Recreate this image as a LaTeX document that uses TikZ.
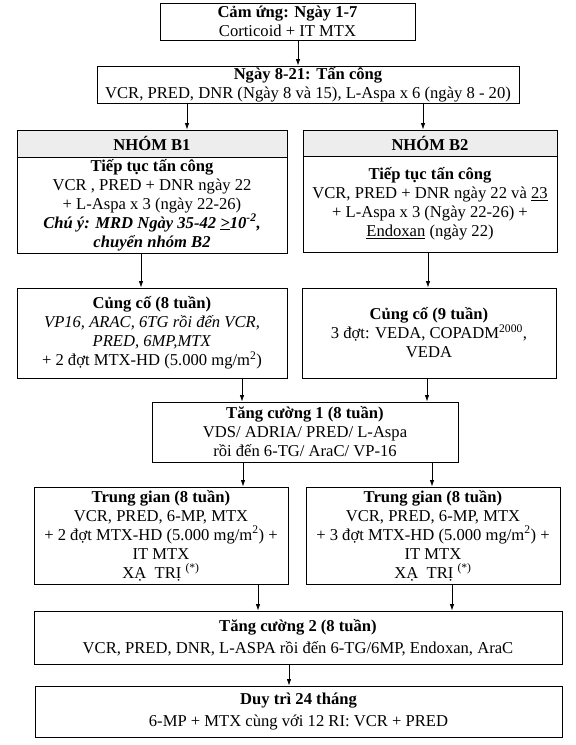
\documentclass[tikz,border=0pt]{standalone}
\usepackage{fontspec}
\setmainfont{Liberation Serif}
\usetikzlibrary{arrows.meta}
\begin{document}
\begin{tikzpicture}[x=1pt,y=-1pt,
  box/.style={draw,line width=0.9pt,inner sep=0pt,align=center,font=\fontsize{16.6}{19}\selectfont},
  headbox/.style={box,fill=black!7},
  arr/.style={line width=0.8pt,-{Latex[length=6.5pt,width=4.5pt]}}]
\useasboundingbox (0,0) rectangle (576,745);
% boxes
\node[box,minimum width=255pt,minimum height=37pt] (c1) at (287.5,21.5)
  {\textbf{Cảm ứng: Ngày 1-7}\\Corticoid + IT MTX};
\node[box,minimum width=422pt,minimum height=37pt] (c2) at (308,84.5)
  {\textbf{Ngày 8-21: Tấn công}\\VCR, PRED, DNR (Ngày 8 và 15), L-Aspa x 6 (ngày 8 - 20)};
\node[headbox,minimum width=270pt,minimum height=27pt] (b1h) at (152,143.5) {\textbf{NHÓM B1}};
\node[box,minimum width=270pt,minimum height=96pt] (b1) at (152,205)
  {\textbf{Tiếp tục tấn công}\\VCR , PRED + DNR ngày 22\\+ L-Aspa x 3 (ngày 22-26)\\
   \textbf{\textit{Chú ý: MRD Ngày 35-42 \underline{>}10\textsuperscript{-2},}}\\
   \textbf{\textit{chuyển nhóm B2}}};
\node[headbox,minimum width=254pt,minimum height=26pt] (b2h) at (430,143) {\textbf{NHÓM B2}};
\node[box,minimum width=254pt,minimum height=96pt] (b2) at (430,204)
  {\textbf{Tiếp tục tấn công}\\VCR, PRED + DNR ngày 22 và \underline{23}\\+ L-Aspa x 3 (Ngày 22-26) +\\
   \underline{Endoxan} (ngày 22)};
\node[box,minimum width=270pt,minimum height=90pt] (cc8) at (152,333)
  {\textbf{Củng cố (8 tuần)}\\\textit{VP16, ARAC, 6TG rồi đến VCR,}\\\textit{PRED, 6MP,MTX}\\
   + 2 đợt MTX-HD (5.000 mg/m\textsuperscript{2})};
\node[box,minimum width=254pt,minimum height=90pt] (cc9) at (429,333)
  {\textbf{Củng cố (9 tuần)}\\3 đợt: VEDA, COPADM\textsuperscript{2000},\\VEDA};
\node[box,minimum width=306pt,minimum height=60pt] (tc1) at (305,432)
  {\textbf{Tăng cường 1 (8 tuần)}\\VDS/ ADRIA/ PRED/ L-Aspa\\rồi đến 6-TG/ AraC/ VP-16};
\node[box,minimum width=254pt,minimum height=97pt] (tgl) at (161,535.5)
  {\textbf{Trung gian (8 tuần)}\\VCR, PRED, 6-MP, MTX\\+ 2 đợt MTX-HD (5.000 mg/m\textsuperscript{2}) +\\
   IT MTX\\XẠ\ \ TRỊ \textsuperscript{(*)}};
\node[box,minimum width=254pt,minimum height=97pt] (tgr) at (433,535.5)
  {\textbf{Trung gian (8 tuần)}\\VCR, PRED, 6-MP, MTX\\+ 3 đợt MTX-HD (5.000 mg/m\textsuperscript{2}) +\\
   IT MTX\\XẠ\ \ TRỊ \textsuperscript{(*)}};
\node[box,minimum width=528pt,minimum height=53pt] (tc2) at (298,637.5)
  {\textbf{Tăng cường 2 (8 tuần)}\\[3pt]VCR, PRED, DNR, L-ASPA rồi đến 6-TG/6MP, Endoxan, AraC};
\node[box,minimum width=527pt,minimum height=51pt] (dt) at (298.5,711.5)
  {\textbf{Duy trì 24 tháng}\\[3pt]6-MP + MTX cùng với 12 RI: VCR + PRED};
% connectors
\draw[arr] ([xshift=10.5pt]c1.south) -- ([xshift=-10pt]c2.north);
\draw[arr] ([xshift=-121pt]c2.south) -- ([xshift=35pt]b1h.north);
\draw[arr] ([xshift=115pt]c2.south) -- ([xshift=-7pt]b2h.north);
\draw[arr] ([xshift=-11pt]b1.south) -- ([xshift=-11pt]cc8.north);
\draw[arr] ([xshift=-2pt]b2.south) -- ([xshift=-1pt]cc9.north);
\draw[arr] ([xshift=90pt]cc8.south) -- ([xshift=-63pt]tc1.north);
\draw[arr] ([xshift=-2pt]cc9.south) -- ([xshift=122pt]tc1.north);
\draw[arr] ([xshift=-62pt]tc1.south) -- ([xshift=82pt]tgl.north);
\draw[arr] ([xshift=127pt]tc1.south) -- ([xshift=-1pt]tgr.north);
\draw[arr] ([xshift=97pt]tgl.south) -- ([xshift=-40pt]tc2.north);
\draw[arr] ([xshift=19pt]tgr.south) -- ([xshift=154pt]tc2.north);
\draw[arr] ([xshift=-9pt]tc2.south) -- ([xshift=-9.5pt]dt.north);
\end{tikzpicture}
\end{document}
